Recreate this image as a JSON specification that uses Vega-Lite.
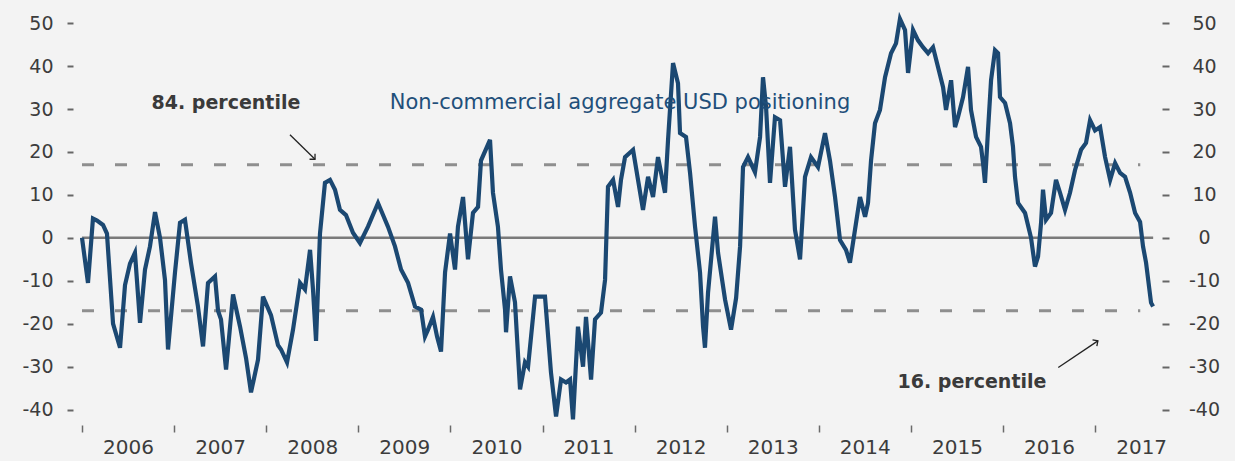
{
  "$schema": "https://vega.github.io/schema/vega-lite/v6.json",
  "width": 1073,
  "height": 413,
  "autosize": {"type": "none"},
  "padding": {"left": 82, "right": 80, "top": 12, "bottom": 36},
  "background": "#f3f3f3",
  "config": {"view": {"stroke": null}, "font": "DejaVu Sans"},
  "datasets": {
    "series": [
      {"t":2006.000,"v":0},{"t":2006.065,"v":-10.5},{"t":2006.119,"v":4.5},{"t":2006.163,"v":4},{"t":2006.228,"v":3},{"t":2006.271,"v":1},{"t":2006.337,"v":-20},{"t":2006.413,"v":-25.6},{"t":2006.467,"v":-11},{"t":2006.521,"v":-6},{"t":2006.575,"v":-3.5},{"t":2006.630,"v":-19.8},{"t":2006.684,"v":-7.4},{"t":2006.738,"v":-2},{"t":2006.793,"v":6},{"t":2006.847,"v":0},{"t":2006.901,"v":-9.8},{"t":2006.934,"v":-26},{"t":2007.010,"v":-8},{"t":2007.064,"v":3.5},{"t":2007.118,"v":4.2},{"t":2007.183,"v":-5.8},{"t":2007.259,"v":-16},{"t":2007.314,"v":-25.3},{"t":2007.368,"v":-10.5},{"t":2007.444,"v":-9},{"t":2007.477,"v":-17},{"t":2007.509,"v":-19},{"t":2007.564,"v":-30.7},{"t":2007.640,"v":-13.2},{"t":2007.716,"v":-20.7},{"t":2007.781,"v":-28},{"t":2007.835,"v":-36},{"t":2007.911,"v":-28.4},{"t":2007.965,"v":-13.7},{"t":2008.052,"v":-18},{"t":2008.128,"v":-25},{"t":2008.161,"v":-26},{"t":2008.226,"v":-29},{"t":2008.291,"v":-21.4},{"t":2008.367,"v":-10.5},{"t":2008.421,"v":-12},{"t":2008.476,"v":-2.8},{"t":2008.508,"v":-12},{"t":2008.541,"v":-24},{"t":2008.584,"v":1},{"t":2008.638,"v":12.8},{"t":2008.693,"v":13.5},{"t":2008.747,"v":11.2},{"t":2008.801,"v":6.5},{"t":2008.866,"v":5.3},{"t":2008.942,"v":1.2},{"t":2009.018,"v":-1.2},{"t":2009.105,"v":2.6},{"t":2009.214,"v":8.1},{"t":2009.322,"v":2.6},{"t":2009.398,"v":-2},{"t":2009.464,"v":-7.4},{"t":2009.540,"v":-10.5},{"t":2009.616,"v":-16},{"t":2009.681,"v":-16.7},{"t":2009.724,"v":-23},{"t":2009.757,"v":-21.4},{"t":2009.811,"v":-18.4},{"t":2009.855,"v":-23},{"t":2009.898,"v":-26.5},{"t":2009.942,"v":-8},{"t":2009.996,"v":1},{"t":2010.050,"v":-7.4},{"t":2010.082,"v":2.6},{"t":2010.137,"v":9.5},{"t":2010.191,"v":-5},{"t":2010.245,"v":5.8},{"t":2010.300,"v":7.2},{"t":2010.332,"v":18},{"t":2010.430,"v":22.8},{"t":2010.462,"v":10.5},{"t":2010.516,"v":2.6},{"t":2010.549,"v":-7.4},{"t":2010.593,"v":-16.7},{"t":2010.604,"v":-22},{"t":2010.647,"v":-9},{"t":2010.701,"v":-15},{"t":2010.756,"v":-35.3},{"t":2010.810,"v":-29},{"t":2010.843,"v":-30},{"t":2010.919,"v":-13.7},{"t":2011.027,"v":-13.7},{"t":2011.092,"v":-31.4},{"t":2011.147,"v":-41.6},{"t":2011.201,"v":-33},{"t":2011.255,"v":-33.7},{"t":2011.299,"v":-33},{"t":2011.331,"v":-42.3},{"t":2011.385,"v":-20.7},{"t":2011.440,"v":-30},{"t":2011.472,"v":-18.4},{"t":2011.527,"v":-33},{"t":2011.570,"v":-19},{"t":2011.635,"v":-17.4},{"t":2011.679,"v":-9.8},{"t":2011.711,"v":11.9},{"t":2011.766,"v":13.5},{"t":2011.820,"v":7.2},{"t":2011.852,"v":13.5},{"t":2011.896,"v":18.8},{"t":2011.983,"v":20.5},{"t":2012.037,"v":13.5},{"t":2012.091,"v":6.5},{"t":2012.146,"v":14.2},{"t":2012.200,"v":9.5},{"t":2012.254,"v":18.8},{"t":2012.330,"v":10.5},{"t":2012.363,"v":22.8},{"t":2012.417,"v":40.7},{"t":2012.471,"v":36},{"t":2012.493,"v":24.4},{"t":2012.558,"v":23.5},{"t":2012.602,"v":15.1},{"t":2012.656,"v":2.6},{"t":2012.710,"v":-8},{"t":2012.743,"v":-20.7},{"t":2012.764,"v":-25.6},{"t":2012.797,"v":-12.8},{"t":2012.873,"v":4.9},{"t":2012.906,"v":-3.5},{"t":2012.982,"v":-14.4},{"t":2013.047,"v":-21.4},{"t":2013.102,"v":-14},{"t":2013.145,"v":-2},{"t":2013.177,"v":16.5},{"t":2013.231,"v":18.8},{"t":2013.307,"v":15.3},{"t":2013.362,"v":23.5},{"t":2013.394,"v":37.4},{"t":2013.427,"v":30.5},{"t":2013.470,"v":12.8},{"t":2013.524,"v":28.1},{"t":2013.579,"v":27.4},{"t":2013.633,"v":11.9},{"t":2013.687,"v":21.2},{"t":2013.741,"v":1.9},{"t":2013.796,"v":-5},{"t":2013.850,"v":14.2},{"t":2013.915,"v":18.8},{"t":2013.991,"v":16.5},{"t":2014.067,"v":24.4},{"t":2014.121,"v":18},{"t":2014.176,"v":9.5},{"t":2014.230,"v":-0.5},{"t":2014.295,"v":-2.8},{"t":2014.338,"v":-5.8},{"t":2014.393,"v":1.9},{"t":2014.447,"v":9.5},{"t":2014.502,"v":4.9},{"t":2014.534,"v":8.1},{"t":2014.567,"v":18},{"t":2014.610,"v":26.7},{"t":2014.664,"v":29.8},{"t":2014.719,"v":37.4},{"t":2014.784,"v":43},{"t":2014.838,"v":45.3},{"t":2014.881,"v":51},{"t":2014.936,"v":48.4},{"t":2014.969,"v":38.4},{"t":2015.023,"v":48.4},{"t":2015.077,"v":46},{"t":2015.131,"v":44.4},{"t":2015.186,"v":43},{"t":2015.240,"v":44.4},{"t":2015.294,"v":39.8},{"t":2015.349,"v":35.1},{"t":2015.381,"v":29.8},{"t":2015.436,"v":36.7},{"t":2015.479,"v":25.8},{"t":2015.511,"v":28.1},{"t":2015.566,"v":32.8},{"t":2015.620,"v":39.8},{"t":2015.652,"v":29.8},{"t":2015.707,"v":23.5},{"t":2015.761,"v":21.2},{"t":2015.783,"v":17.4},{"t":2015.804,"v":12.8},{"t":2015.837,"v":25},{"t":2015.870,"v":36.7},{"t":2015.913,"v":43.7},{"t":2015.946,"v":43},{"t":2015.967,"v":32.8},{"t":2016.022,"v":31.4},{"t":2016.076,"v":26.7},{"t":2016.108,"v":21.2},{"t":2016.130,"v":14.2},{"t":2016.163,"v":8.1},{"t":2016.239,"v":5.8},{"t":2016.304,"v":0},{"t":2016.347,"v":-6.7},{"t":2016.380,"v":-4.4},{"t":2016.413,"v":3.5},{"t":2016.434,"v":11.2},{"t":2016.467,"v":4.2},{"t":2016.521,"v":5.8},{"t":2016.575,"v":13.5},{"t":2016.619,"v":10.5},{"t":2016.673,"v":6.5},{"t":2016.727,"v":10.5},{"t":2016.782,"v":15.8},{"t":2016.847,"v":20.5},{"t":2016.901,"v":22.1},{"t":2016.945,"v":27.4},{"t":2016.999,"v":25},{"t":2017.054,"v":25.8},{"t":2017.108,"v":18.8},{"t":2017.163,"v":13.5},{"t":2017.217,"v":17.4},{"t":2017.271,"v":15.1},{"t":2017.325,"v":14.2},{"t":2017.380,"v":10.5},{"t":2017.434,"v":5.8},{"t":2017.488,"v":3.7},{"t":2017.520,"v":-2},{"t":2017.553,"v":-5.8},{"t":2017.607,"v":-15.1},{"t":2017.629,"v":-16}
    ],
    "percentiles": [
      {"t": 2006.0, "t2": 2017.49, "v": 17},
      {"t": 2006.0, "t2": 2017.49, "v": -17}
    ],
    "zero": [{"t": 2006.0, "t2": 2017.63, "v": 0}],
    "arrows": [
      {"t": 2008.258, "v": 24.0, "t2": 2008.53, "v2": 18.3, "angle": 135},
      {"t": 2016.60, "v": -30.2, "t2": 2017.03, "v2": -24.0, "angle": 56}
    ],
    "notes_gray": [
      {"t": 2007.563, "v": 31.4, "label": "84. percentile"},
      {"t": 2015.663, "v": -33.5, "label": "16. percentile"}
    ],
    "notes_blue": [
      {"t": 2011.841, "v": 31.4, "label": "Non-commercial aggregate USD positioning"}
    ]
  },
  "resolve": {"axis": {"y": "independent"}},
  "layer": [
    {
      "data": {"name": "percentiles"},
      "mark": {"type": "rule", "color": "#8e8e8e", "strokeWidth": 3, "strokeDash": [12, 21]},
      "encoding": {
        "x": {"field": "t", "type": "quantitative", "scale": {"domain": [2006, 2017.65], "nice": false, "zero": false},
              "axis": {"values": [2006,2007,2008,2009,2010,2011,2012,2013,2014,2015,2016,2017], "labelExpr": "'' + datum.value", "labelOffset": 46, "tickSize": 7, "tickColor": "#6a6a6a", "tickWidth": 1.5, "domain": false, "grid": false, "labelFontSize": 20, "labelColor": "#3c3c3c", "labelPadding": 5, "title": null, "labelFlush": false, "labelOverlap": false, "labelBaseline": "top"}},
        "x2": {"field": "t2"},
        "y": {"field": "v", "type": "quantitative", "scale": {"domain": [-43.6, 52.6], "nice": false, "zero": false},
              "axis": {"orient": "left", "values": [-40,-30,-20,-10,0,10,20,30,40,50], "labelExpr": "'' + datum.value", "offset": 9, "tickSize": 6, "tickWidth": 2, "tickColor": "#666666", "labelPadding": 14, "labelFontSize": 19, "labelColor": "#3c3c3c", "domain": false, "grid": false, "title": null}}
      }
    },
    {
      "data": {"name": "zero"},
      "mark": {"type": "rule", "color": "#7a7a7a", "strokeWidth": 2.5},
      "encoding": {
        "x": {"field": "t", "type": "quantitative"},
        "x2": {"field": "t2"},
        "y": {"field": "v", "type": "quantitative", "scale": {"domain": [-43.6, 52.6], "nice": false, "zero": false},
              "axis": {"orient": "right", "values": [-40,-30,-20,-10,0,10,20,30,40,50], "labelExpr": "'' + datum.value", "offset": 7, "tickSize": 7, "tickWidth": 2, "tickColor": "#666666", "labelPadding": 35, "labelAlign": "center", "labelFontSize": 19, "labelColor": "#3c3c3c", "domain": false, "grid": false, "title": null}}
      }
    },
    {
      "data": {"name": "series"},
      "mark": {"type": "line", "color": "#1b4872", "strokeWidth": 4.2, "strokeJoin": "miter"},
      "encoding": {
        "x": {"field": "t", "type": "quantitative"},
        "y": {"field": "v", "type": "quantitative", "axis": null}
      }
    },
    {
      "data": {"name": "arrows"},
      "mark": {"type": "rule", "color": "#222222", "strokeWidth": 1.3},
      "encoding": {
        "x": {"field": "t", "type": "quantitative"},
        "x2": {"field": "t2"},
        "y": {"field": "v", "type": "quantitative", "axis": null},
        "y2": {"field": "v2"}
      }
    },
    {
      "data": {"name": "arrows"},
      "mark": {"type": "point", "shape": "M -1 1 L 0 0 L 1 1", "filled": false, "color": "#222222", "strokeWidth": 1.3, "size": 60, "opacity": 1},
      "encoding": {
        "x": {"field": "t2", "type": "quantitative"},
        "y": {"field": "v2", "type": "quantitative", "axis": null},
        "angle": {"field": "angle", "type": "quantitative", "scale": null}
      }
    },
    {
      "data": {"name": "notes_gray"},
      "mark": {"type": "text", "fontSize": 19, "fontWeight": "bold", "color": "#3a3a3a", "align": "center", "baseline": "middle"},
      "encoding": {
        "x": {"field": "t", "type": "quantitative"},
        "y": {"field": "v", "type": "quantitative", "axis": null},
        "text": {"field": "label"}
      }
    },
    {
      "data": {"name": "notes_blue"},
      "mark": {"type": "text", "fontSize": 21, "color": "#1f4f7a", "align": "center", "baseline": "middle"},
      "encoding": {
        "x": {"field": "t", "type": "quantitative"},
        "y": {"field": "v", "type": "quantitative", "axis": null},
        "text": {"field": "label"}
      }
    }
  ]
}
